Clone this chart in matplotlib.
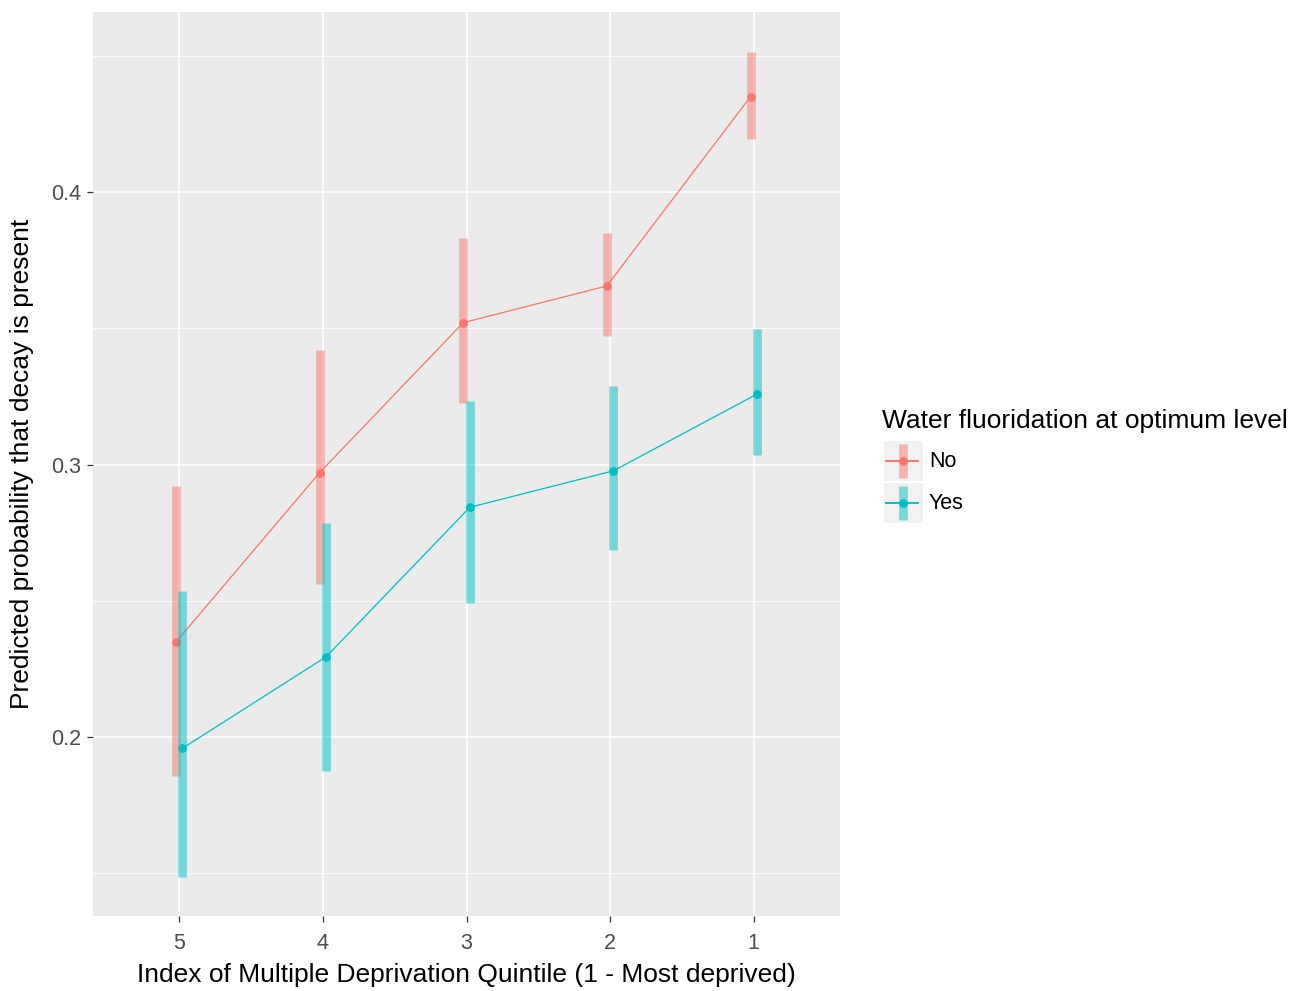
import matplotlib; matplotlib.use("Agg")
import matplotlib.pyplot as plt
import numpy as np

plt.rcParams["font.family"] = ["Liberation Sans", "DejaVu Sans"]

# predicted probabilities
quintiles = ["5", "4", "3", "2", "1"]
no_fit = [0.2348, 0.2970, 0.3521, 0.3656, 0.4351]
no_lo = [0.1856, 0.2561, 0.3225, 0.3472, 0.4196]
no_hi = [0.2921, 0.3421, 0.3831, 0.3851, 0.4515]
yes_fit = [0.1958, 0.2294, 0.2843, 0.2977, 0.3259]
yes_lo = [0.1486, 0.1876, 0.2493, 0.2686, 0.3035]
yes_hi = [0.2537, 0.2786, 0.3233, 0.3288, 0.3497]
groups = ["No", "Yes"]

RED, CYAN = "#F8766D", "#00BFC4"
W, H = 1304, 991
fig = plt.figure(figsize=(W/100, H/100), dpi=100)
ax = fig.add_axes([93/W, 1-916/H, (840-93)/W, (916-12)/H])
ax.set_facecolor("#EBEBEB")
for s in ax.spines.values(): s.set_visible(False)

x = np.arange(len(quintiles))
series = [(no_fit, no_lo, no_hi, RED, -0.023), (yes_fit, yes_lo, yes_hi, CYAN, 0.023)]
for fit, lo, hi, col, off in series:
    xs = x + off
    ax.plot(xs, fit, color=col, lw=0.9, zorder=3)
    ax.plot(xs, fit, "o", color=col, ms=6.3, mec="none", zorder=3)
    ax.vlines(xs, lo, hi, color=col, lw=6.3, alpha=0.5, zorder=4)

ax.set_xlim(-0.6, 4.6)
ax.set_ylim(0.1342, 0.4662)
ax.set_xticks(x, quintiles)
ax.set_yticks([0.2, 0.3, 0.4], ["0.2", "0.3", "0.4"])
ax.set_yticks([0.15, 0.25, 0.35, 0.45], minor=True)
ax.grid(which="major", color="white", lw=1.2, zorder=0)
ax.grid(which="minor", axis="y", color="white", lw=0.6, zorder=0)
ax.set_axisbelow(True)
ax.tick_params(which="major", length=4.5, width=0.9, color="#333333", labelcolor="#4D4D4D", labelsize=15.5, pad=4)
ax.tick_params(axis="x", which="major", pad=8)
ax.tick_params(which="minor", length=0)
ax.set_xlabel("Index of Multiple Deprivation Quintile (1 - Most deprived)", fontsize=19, va="center")
ax.set_ylabel("Predicted probability that decay is present", fontsize=19, va="center")
ax.xaxis.set_label_coords(0.5, (916-975)/904)
ax.yaxis.set_label_coords((22-93)/747, 0.5)

# legend drawn as ggplot-style keys
fig.text(882/W, 1-421/H, "Water fluoridation at optimum level", fontsize=19, va="center", ha="left")
for i, (g, col) in enumerate(zip(groups, [RED, CYAN])):
    top = 440.7 + i*42
    k = fig.add_axes([884/W, 1-(top+40)/H, 39/W, 40/H])
    k.set_facecolor("#F2F2F2")
    k.set_xlim(0, 1); k.set_ylim(0, 1)
    k.set_xticks([]); k.set_yticks([])
    for s in k.spines.values(): s.set_visible(False)
    k.plot([0.05, 0.87], [0.5, 0.5], color=col, lw=1.4)
    k.plot([0.48], [0.5], "o", color=col, ms=6.3, mec="none")
    k.vlines([0.48], 0.07, 0.93, color=col, lw=6.3, alpha=0.5)
    fig.text(929/W, 1-(top+21)/H, g, fontsize=15.5, va="center", ha="left")

fig.savefig("out.png", dpi=100)
